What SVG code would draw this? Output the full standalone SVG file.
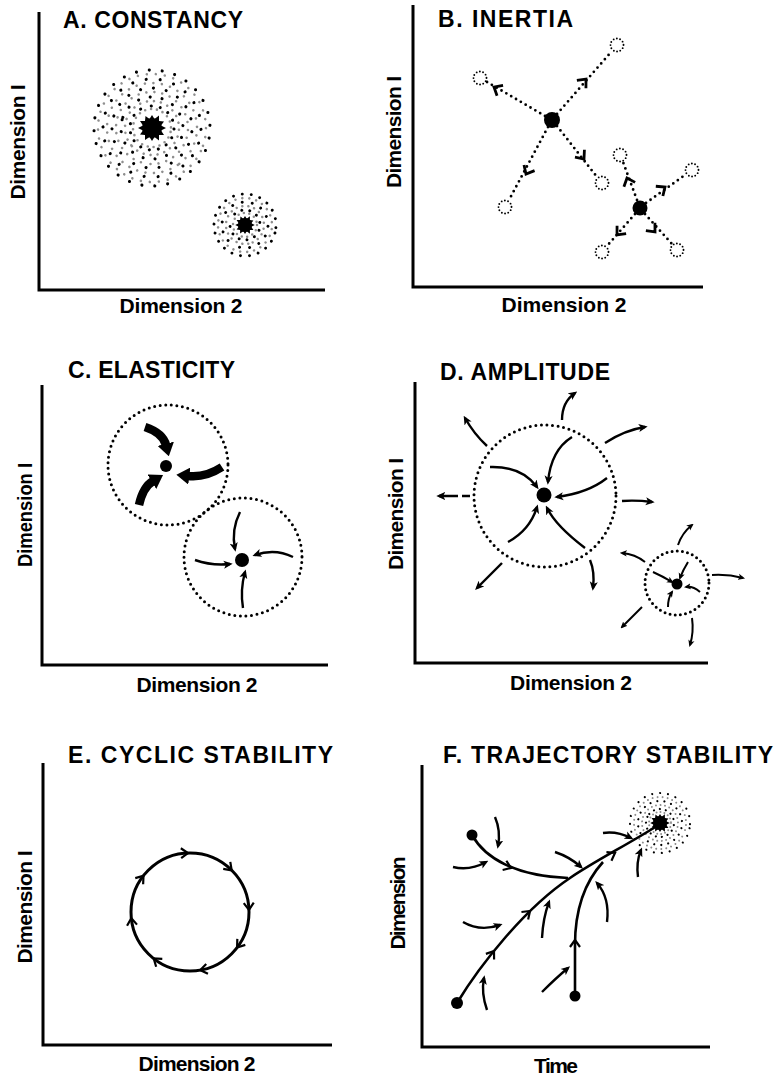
<svg xmlns="http://www.w3.org/2000/svg" xmlns:xlink="http://www.w3.org/1999/xlink" width="779" height="1078" viewBox="0 0 779 1078">
<style>
.ax{fill:none;stroke:#000;stroke-width:3;stroke-linejoin:miter}
.t{font-family:"Liberation Sans",Arial,sans-serif;font-weight:bold;font-size:21px;fill:#000}
.h{font-size:23px}
.m{text-anchor:middle}
.dotc{fill:none;stroke:#000;stroke-width:3;stroke-linecap:round;stroke-dasharray:0 5.6}
.sdot{fill:none;stroke:#000;stroke-width:1.9;stroke-linecap:round;stroke-dasharray:0 3.3}
.dl{fill:none;stroke:#000;stroke-width:2.8;stroke-linecap:round;stroke-dasharray:0 5.6}
.arr{fill:none;stroke:#000;stroke-width:2.4;marker-end:url(#ah)}
.arrs{fill:none;stroke:#000;stroke-width:2;marker-end:url(#ahs)}
.thick{fill:none;stroke:#000;stroke-width:8.5;marker-end:url(#ahb)}
.line{fill:none;stroke:#000;stroke-width:2.6}
.bk{fill:none;stroke:#000;stroke-linecap:round}
.gr{fill:none;stroke:#8f8f8f;stroke-linecap:round}
</style>
<defs>
<marker id="ah" viewBox="0 0 10 10" refX="7" refY="5" markerWidth="9" markerHeight="9" markerUnits="userSpaceOnUse" orient="auto"><path d="M0,0.5 L10,5 L0,9.5 L2.5,5 z"/></marker>
<marker id="ahs" viewBox="0 0 10 10" refX="7" refY="5" markerWidth="7" markerHeight="7" markerUnits="userSpaceOnUse" orient="auto"><path d="M0,0.5 L10,5 L0,9.5 L2.5,5 z"/></marker>
<marker id="ahb" viewBox="0 0 10 10" refX="1" refY="5" markerWidth="13" markerHeight="17" preserveAspectRatio="none" markerUnits="userSpaceOnUse" orient="auto"><path d="M0,0 L10,5 L0,10 z"/></marker>
<path id="chB" d="M-7,-6 L0,0 L-7,6" fill="none" stroke="#000" stroke-width="2.8"/>
<path id="chE" d="M-7,-5 L0,0 L-7,5" fill="none" stroke="#000" stroke-width="2.2"/>
<g id="core"><circle r="10" fill="#000"/><path fill="#000" d="M14,0 L9,2.5 L12,7 L7,7 L7,12.5 L2.5,9 L0,13 L-2.5,9 L-7,12 L-7,7 L-12,6.5 L-9,2.5 L-14,0 L-9,-2.5 L-12,-7 L-7,-7 L-6.5,-12 L-2.5,-9 L0,-13 L2.5,-9 L7,-12.5 L7,-7 L12,-6.5 L9,-2.5 Z"/></g>
</defs>
<rect width="779" height="1078" fill="#fff"/>

<!-- Panel A -->
<g id="panelA">
<path class="ax" d="M39,12 V290 H325"/>
<text class="t h" x="63" y="28" textLength="180" lengthAdjust="spacing">A. CONSTANCY</text>
<text class="t m" x="181" y="313" textLength="123" lengthAdjust="spacing">Dimension 2</text>
<text class="t m" transform="translate(25,142) rotate(-90)" textLength="115" lengthAdjust="spacing">Dimension I</text>
<g id="cloudA1" transform="translate(152,128)">
<g class="gr" stroke-width="2.6">
<circle r="54" stroke-dasharray="0 9" stroke-dashoffset="4" transform="rotate(20)"/>
<circle r="45" stroke-dasharray="0 8.5" transform="rotate(55)"/>
<circle r="36" stroke-dasharray="0 8" stroke-dashoffset="3" transform="rotate(100)"/>
<circle r="27" stroke-dasharray="0 7" transform="rotate(140)"/>
<circle r="19" stroke-dasharray="0 6" stroke-dashoffset="2"/>
</g>
<g class="bk" stroke-width="3.1">
<circle r="58" stroke-dasharray="0 13" transform="rotate(10)"/>
<circle r="49" stroke-dasharray="0 14" stroke-dashoffset="3" transform="rotate(70)"/>
<circle r="40" stroke-dasharray="0 13" stroke-dashoffset="5" transform="rotate(130)"/>
<circle r="31" stroke-dasharray="0 12" transform="rotate(200)"/>
<circle r="22" stroke-dasharray="0 9" stroke-dashoffset="2" transform="rotate(250)"/>
</g>
<use xlink:href="#core"/>
</g>
<g id="cloudA2" transform="translate(245,225)">
<g class="gr" stroke-width="2.5">
<circle r="27" stroke-dasharray="0 7" stroke-dashoffset="2" transform="rotate(30)"/>
<circle r="19" stroke-dasharray="0 6" transform="rotate(80)"/>
<circle r="12" stroke-dasharray="0 5.5"/>
</g>
<g class="bk" stroke-width="2.9">
<circle r="31" stroke-dasharray="0 9" transform="rotate(15)"/>
<circle r="23" stroke-dasharray="0 10" stroke-dashoffset="3" transform="rotate(120)"/>
<circle r="15" stroke-dasharray="0 8" stroke-dashoffset="1" transform="rotate(200)"/>
</g>
<use xlink:href="#core" transform="scale(0.7)"/>
</g>
</g>

<!-- Panel B -->
<g id="panelB">
<path class="ax" d="M413,5 V287 H703"/>
<text class="t h" x="438" y="27" textLength="135" lengthAdjust="spacing">B. INERTIA</text>
<text class="t m" x="564" y="312" textLength="125" lengthAdjust="spacing">Dimension 2</text>
<text class="t m" transform="translate(401,132) rotate(-90)" textLength="112" lengthAdjust="spacing">Dimension I</text>
<g id="connectorsB">
<path class="dl" d="M545,116 L487,82"/>
<path class="dl" d="M557,114 L612,51"/>
<path class="dl" d="M548,127 L509,200"/>
<path class="dl" d="M557,126 L597,177"/>
<path class="dl" d="M637,200 L623,162"/>
<path class="dl" d="M646,203 L685,175"/>
<path class="dl" d="M635,214 L607,246"/>
<path class="dl" d="M645,214 L672,244"/>
<use xlink:href="#chB" transform="translate(494,87) rotate(-150)"/>
<use xlink:href="#chB" transform="translate(586,79) rotate(-49)"/>
<use xlink:href="#chB" transform="translate(526,174) rotate(118)"/>
<use xlink:href="#chB" transform="translate(584,159) rotate(52)"/>
<use xlink:href="#chB" transform="translate(627,178) rotate(-111)"/>
<use xlink:href="#chB" transform="translate(665,187) rotate(-36)"/>
<use xlink:href="#chB" transform="translate(617,235) rotate(131)"/>
<use xlink:href="#chB" transform="translate(655,232) rotate(49)"/>
</g>
<g id="nodesB">
<circle cx="552" cy="120" r="8" fill="#000"/>
<circle cx="640" cy="208" r="7.5" fill="#000"/>
<circle class="sdot" cx="480" cy="78" r="6.5"/>
<circle class="sdot" cx="617" cy="45" r="6.5"/>
<circle class="sdot" cx="505" cy="207" r="6.5"/>
<circle class="sdot" cx="602" cy="183" r="6.5"/>
<circle class="sdot" cx="620" cy="155" r="6.5"/>
<circle class="sdot" cx="692" cy="170" r="6.5"/>
<circle class="sdot" cx="602" cy="252" r="6.5"/>
<circle class="sdot" cx="677" cy="250" r="6.5"/>
</g>
</g>

<!-- Panel C -->
<g id="panelC">
<path class="ax" d="M42,385 V665 H328"/>
<text class="t h" x="68" y="378" textLength="167" lengthAdjust="spacing">C. ELASTICITY</text>
<text class="t m" x="197" y="692" textLength="121" lengthAdjust="spacing">Dimension 2</text>
<text class="t m" transform="translate(32,515) rotate(-90)" textLength="104" lengthAdjust="spacingAndGlyphs">Dimension I</text>
<circle class="dotc" cx="168" cy="465" r="60"/>
<circle class="dotc" cx="243" cy="557" r="59"/>
<circle cx="166" cy="466" r="6" fill="#000"/>
<circle cx="242" cy="560" r="7" fill="#000"/>
<path class="thick" d="M145,427 Q163,433 166,445"/>
<path class="thick" d="M222,467 Q205,478 188,476"/>
<path class="thick" d="M139,505 Q143,487 153,481"/>
<path class="arr" d="M240,512 Q231,530 235,549"/>
<path class="arr" d="M293,557 Q275,548 255,555"/>
<path class="arr" d="M243,608 Q240,590 245,572"/>
<path class="arr" d="M195,560 Q212,566 230,564"/>
</g>

<!-- Panel D -->
<g id="panelD">
<path class="ax" d="M415,382 V663 H708"/>
<text class="t h" x="440" y="380" textLength="170" lengthAdjust="spacing">D. AMPLITUDE</text>
<text class="t m" x="571" y="690" textLength="122" lengthAdjust="spacing">Dimension 2</text>
<text class="t m" transform="translate(403,514) rotate(-90)" textLength="112" lengthAdjust="spacing">Dimension I</text>
<circle class="dotc" cx="545" cy="496" r="71"/>
<circle cx="544" cy="495" r="7.5" fill="#000"/>
<path class="arr" d="M490,467 Q522,466 537,487"/>
<path class="arr" d="M572,437 Q551,450 548,482"/>
<path class="arr" d="M607,478 Q588,493 557,497"/>
<path class="arr" d="M585,548 Q556,526 547,508"/>
<path class="arr" d="M508,542 Q530,530 537,507"/>
<path class="arr" d="M487,446 Q474,434 465,418"/>
<path class="arr" d="M562,420 Q562,402 575,393"/>
<path class="arr" d="M605,443 Q625,430 645,427"/>
<path class="arr" d="M622,501 Q637,500 652,502"/>
<path class="arr" d="M590,560 Q595,572 593,588"/>
<path class="arr" d="M502,563 Q490,575 477,588"/>
<path class="arr" d="M470,496 H439" stroke-dasharray="8 4 40"/>
<circle class="dotc" cx="677" cy="583" r="32" style="stroke-dasharray:0 5.2"/>
<circle cx="677" cy="584" r="5.5" fill="#000"/>
<path class="arrs" d="M653,572 Q662,576 672,582"/>
<path class="arrs" d="M688,562 Q683,570 680,578"/>
<path class="arrs" d="M700,592 Q693,586 686,587"/>
<path class="arrs" d="M668,607 Q668,598 672,592"/>
<path class="arrs" d="M678,545 Q682,533 692,525"/>
<path class="arrs" d="M645,562 Q635,554 622,553"/>
<path class="arrs" d="M712,575 Q728,574 743,578"/>
<path class="arrs" d="M642,607 Q632,617 622,627"/>
<path class="arrs" d="M692,618 Q694,632 690,645"/>
</g>

<!-- Panel E -->
<g id="panelE">
<path class="ax" d="M43,763 V1045 H332"/>
<text class="t h" x="68" y="763" textLength="265" lengthAdjust="spacing">E. CYCLIC STABILITY</text>
<text class="t m" x="197" y="1071" textLength="117" lengthAdjust="spacing">Dimension 2</text>
<text class="t m" transform="translate(32,907) rotate(-90)" textLength="113" lengthAdjust="spacing">Dimension I</text>
<circle cx="190" cy="912" r="59" fill="none" stroke="#000" stroke-width="3"/>
<use xlink:href="#chE" transform="translate(188,853) rotate(-2)"/>
<use xlink:href="#chE" transform="translate(231.7,870.3) rotate(45)"/>
<use xlink:href="#chE" transform="translate(249,909.9) rotate(88)"/>
<use xlink:href="#chE" transform="translate(237.1,947.5) rotate(127)"/>
<use xlink:href="#chE" transform="translate(200.2,970.1) rotate(170)"/>
<use xlink:href="#chE" transform="translate(153.7,958.5) rotate(218)"/>
<use xlink:href="#chE" transform="translate(131.3,918.2) rotate(264)"/>
<use xlink:href="#chE" transform="translate(143.5,875.7) rotate(308)"/>
</g>

<!-- Panel F -->
<g id="panelF">
<path class="ax" d="M422,765 V1047 H710"/>
<text class="t h" x="443" y="763" textLength="330" lengthAdjust="spacing">F. TRAJECTORY STABILITY</text>
<text class="t m" x="556" y="1073" textLength="44" lengthAdjust="spacing">Time</text>
<text class="t m" transform="translate(405,903) rotate(-90)" textLength="93" lengthAdjust="spacing">Dimension</text>
<g id="cloudF" transform="translate(660,823)">
<g class="gr" stroke-width="2">
<circle r="26" stroke-dasharray="0 5" stroke-dashoffset="2" transform="rotate(25)"/>
<circle r="18" stroke-dasharray="0 4.5" transform="rotate(70)"/>
<circle r="11" stroke-dasharray="0 4"/>
</g>
<g class="bk" stroke-width="2.2">
<circle r="30" stroke-dasharray="0 8" transform="rotate(10)"/>
<circle r="22" stroke-dasharray="0 7" stroke-dashoffset="2" transform="rotate(140)"/>
<circle r="14" stroke-dasharray="0 6" transform="rotate(220)"/>
</g>
<use xlink:href="#core" transform="scale(0.7)"/>
</g>
<path class="line" d="M457,1003 C480,965 525,908 570,878 C595,861 625,846 657,826"/>
<path class="line" d="M472,835 C485,858 515,876 568,878"/>
<path class="line" d="M575,996 L575,945 C575,915 582,885 603,862"/>
<use xlink:href="#chE" transform="translate(494,951) rotate(-55)"/>
<use xlink:href="#chE" transform="translate(530,911) rotate(-42)"/>
<use xlink:href="#chE" transform="translate(615,853) rotate(-30)"/>
<use xlink:href="#chE" transform="translate(511,868) rotate(22)"/>
<use xlink:href="#chE" transform="translate(575,940) rotate(-90)"/>
<circle cx="457" cy="1003" r="6" fill="#000"/>
<circle cx="472" cy="835" r="5.5" fill="#000"/>
<circle cx="575" cy="996" r="5.5" fill="#000"/>
<path class="arr" d="M495,817 Q501,831 498,846"/>
<path class="arr" d="M453,867 Q470,871 486,862"/>
<path class="arr" d="M555,852 Q570,857 581,867"/>
<path class="arr" d="M603,833 Q617,831 631,838"/>
<path class="arr" d="M638,877 Q636,862 641,850"/>
<path class="arr" d="M463,922 Q480,932 500,925"/>
<path class="arr" d="M542,938 Q543,918 549,902"/>
<path class="arr" d="M607,922 Q610,898 597,883"/>
<path class="arr" d="M487,1010 Q481,993 484,978"/>
<path class="arr" d="M542,992 Q556,978 568,968"/>
</g>
</svg>
